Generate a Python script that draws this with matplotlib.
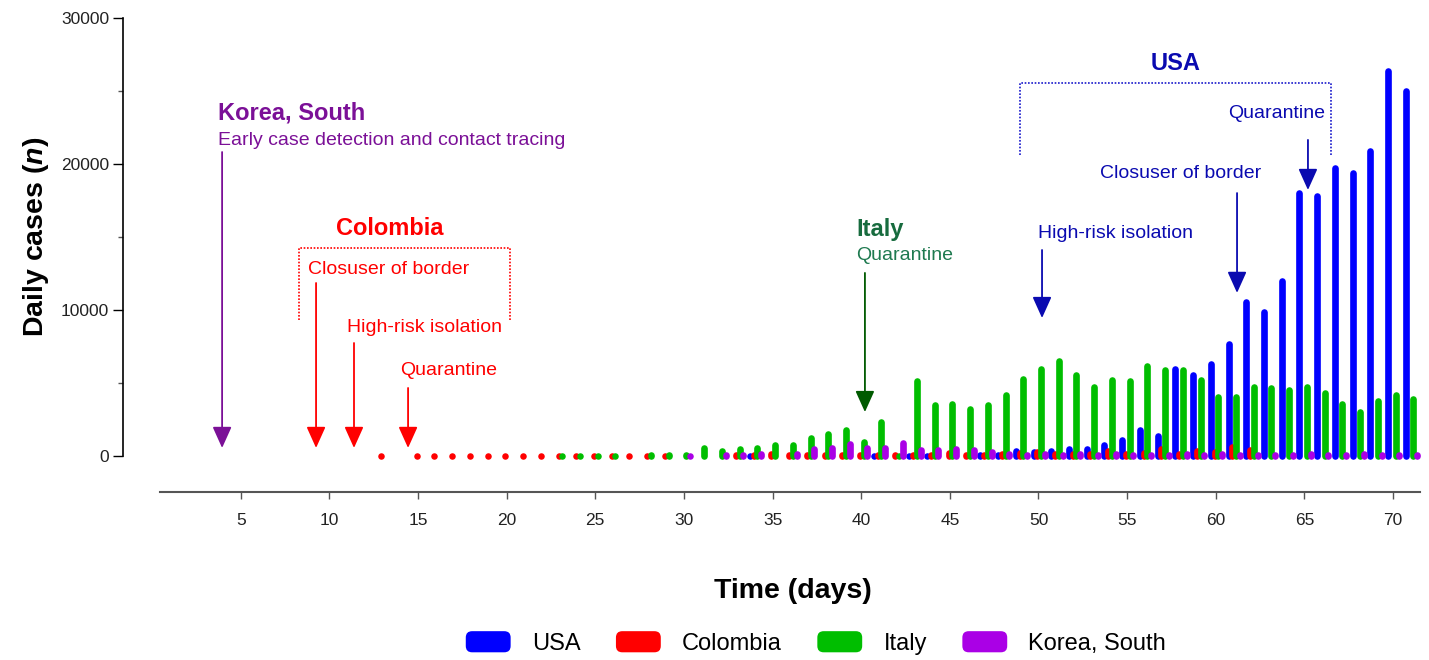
import numpy as np
import matplotlib
matplotlib.use('Agg')
import matplotlib.pyplot as plt
from matplotlib.patches import Patch, FancyBboxPatch
from matplotlib.legend_handler import HandlerPatch
from matplotlib.ticker import MultipleLocator

plt.rcParams['font.family'] = ['Liberation Sans', 'DejaVu Sans']
plt.rcParams['mathtext.fontset'] = 'custom'
plt.rcParams['mathtext.it'] = 'Liberation Sans:italic:bold'
plt.rcParams['mathtext.rm'] = 'Liberation Sans:bold'

nan = np.nan
DAYS = np.arange(1, 72)

# daily cases per day 1..71 (nan = no bar)
usa = ([nan]*33 + [0] + [nan]*6 + [0, nan] +
       [0, 0, 20, 30, 40, 80, 330, 300, 360, 460, 500, 740, 1100, 1770, 1340,
        5950, 5540, 6300, 7660, 10540, 9850, 12000, 18000, 17780, 19760, 19370,
        20900, 26340, 25020])
colombia = ([nan]*12 + [0, nan] + [0]*15 +
            [20, 30, 30, 50, 100, 150, 60, 80, 60, 80, 70, 80, 100, 100, 80, 220,
             90, 90, 130, 220, 270, 160, 160, 130, 330, 160, 220, 450, 160, 330,
             280, 620, 400] + [nan]*9)
italy = ([nan]*22 +
         [0, 0, 0, 0, 20, 40, 80, 50, 550, 350, 460, 580, 760, 770, 1240, 1490,
          1790, 990, 2310, 0, 5170, 3500, 3580, 3210, 3500, 4190, 5290, 5950,
          6520, 5520, 4760, 5220, 5150, 6180, 5860, 5920, 5220, 4020, 4030, 4760,
          4640, 4530, 4760, 4300, 3550, 3000, 3800, 4190, 3890])
korea = ([nan]*29 +
         [0, 30, 90, 40, 140, 30, 140, 460, 520, 800, 560, 560, 860, 420, 440,
          460, 400, 250, 120, 100, 130, 100, 110, 100, 120, 100, 100, 90, 110,
          100, 110, 100, 90, 100, 90, 110, 90, 100, 110, 90, 100, 80])

SERIES = [('USA', usa, '#0000FF', -0.28),
          ('Colombia', colombia, '#FF0000', -0.07),
          ('Italy', italy, '#00BE00', 0.14),
          ('Korea, South', korea, '#AA00E6', 0.355)]

fig = plt.figure(figsize=(14.29, 6.6), dpi=100)
ax = fig.add_axes([123/1429, 1-456/660, 1297/1429, 438/660])
ax.set_xlim(-1.64, 71.52)
ax.set_ylim(0, 30000)

for name, vals, color, off in SERIES:
    v = np.array(vals, dtype=float)
    pos = ~np.isnan(v) & (v > 0)
    zero = ~np.isnan(v) & (v == 0)
    ax.vlines(DAYS[pos] + off, 0, v[pos], colors=color, linewidth=4.8,
              capstyle='round', clip_on=False, zorder=3)
    # zero-height bars show up as small dots
    ax.scatter(DAYS[zero] + off, v[zero], s=22, color=color, linewidths=0,
               clip_on=False, zorder=3)

# axes
ax.spines[['top', 'right']].set_visible(False)
ax.spines['left'].set_bounds(0, 30000)
ax.spines['left'].set_linewidth(1.2)
ax.spines['bottom'].set_position(('outward', 26))
ax.spines['bottom'].set_bounds(0.45, 71.52)
ax.spines['bottom'].set_color('#555555')
ax.spines['bottom'].set_linewidth(1.5)
ax.set_xticks(range(5, 71, 5))
ax.yaxis.set_major_locator(MultipleLocator(10000))
ax.yaxis.set_minor_locator(MultipleLocator(5000))
ax.tick_params(axis='y', which='major', length=7, width=1, labelsize=12.5, pad=3, labelcolor='#222222')
ax.tick_params(axis='y', which='minor', length=3.6, width=1, color='#555555')
ax.tick_params(axis='x', length=5, width=1, color='#555555', labelsize=12.5, pad=10, labelcolor='#222222')
ax.set_ylabel(r'Daily cases ($n$)', fontsize=20.5, fontweight='bold', labelpad=7)
fig.text(793/1429, 1-591/660, 'Time (days)', ha='center', va='center', fontsize=20.5, fontweight='bold')


def arrow(x, y0, y1, color):
    ax.annotate('', xy=(x, y1), xytext=(x, y0), annotation_clip=False,
                arrowprops=dict(arrowstyle='-|>,head_length=1.0,head_width=0.45',
                                mutation_scale=13, color=color, lw=1.3,
                                shrinkA=0, shrinkB=0))


def bracket(x0, x1, ytop, ybot, color):
    ax.plot([x0, x0, x1, x1], [ybot, ytop, ytop, ybot], color=color, lw=1.2,
            ls=(0, (1, 1)), clip_on=False)


# Korea
KC = '#7B1097'
ax.text(3.72, 23500, 'Korea, South', color=KC, fontsize=17, fontweight='bold', va='center')
ax.text(3.72, 21580, 'Early case detection and contact tracing', color=KC, fontsize=14, va='center')
arrow(3.95, 20820, 550, KC)

# Colombia
CC = '#FF0000'
ax.text(13.42, 15550, 'Colombia', color=CC, fontsize=17, fontweight='bold', ha='center', va='center')
bracket(8.29, 20.19, 14250, 9320, CC)
ax.text(8.8, 12740, 'Closuser of border', color=CC, fontsize=14, va='center')
arrow(9.25, 11850, 550, CC)
ax.text(11.0, 8770, 'High-risk isolation', color=CC, fontsize=14, va='center')
arrow(11.39, 7740, 550, CC)
ax.text(13.99, 5890, 'Quarantine', color=CC, fontsize=14, va='center')
arrow(14.44, 4660, 550, CC)

# Italy
ax.text(39.7, 15480, 'Italy', color='#176B3E', fontsize=17, fontweight='bold', va='center')
ax.text(39.7, 13700, 'Quarantine', color='#1F7A50', fontsize=14, va='center')
arrow(40.21, 12540, 3010, '#005A00')

# USA
UC = '#0A0AB0'
ax.text(57.76, 26850, 'USA', color=UC, fontsize=17, fontweight='bold', ha='center', va='center')
bracket(48.96, 66.5, 25550, 20620, '#1A1ACC')
ax.text(60.69, 23430, 'Quarantine', color=UC, fontsize=14, va='center')
arrow(65.2, 21650, 18220, UC)
ax.text(53.47, 19320, 'Closuser of border', color=UC, fontsize=14, va='center')
arrow(61.2, 18010, 11170, UC)
ax.text(49.97, 15210, 'High-risk isolation', color=UC, fontsize=14, va='center')
arrow(50.2, 14110, 9450, UC)


def rounded(legend, orig_handle, xdescent, ydescent, width, height, fontsize):
    return FancyBboxPatch((-xdescent, -ydescent), width, height,
                          boxstyle='round,pad=0,rounding_size=%f' % (height * 0.3))


handles = [Patch(facecolor=c, edgecolor='none') for _, _, c, _ in SERIES]
labels = [n for n, _, _, _ in SERIES]
fig.legend(handles, labels, loc='center', bbox_to_anchor=(816/1429, 1-643/660),
           ncol=4, frameon=False, fontsize=17, handlelength=1.9, handleheight=1.0,
           handletextpad=0.9, columnspacing=1.5,
           handler_map={Patch: HandlerPatch(patch_func=rounded)})

fig.savefig('out.png', dpi=100, facecolor='white')
